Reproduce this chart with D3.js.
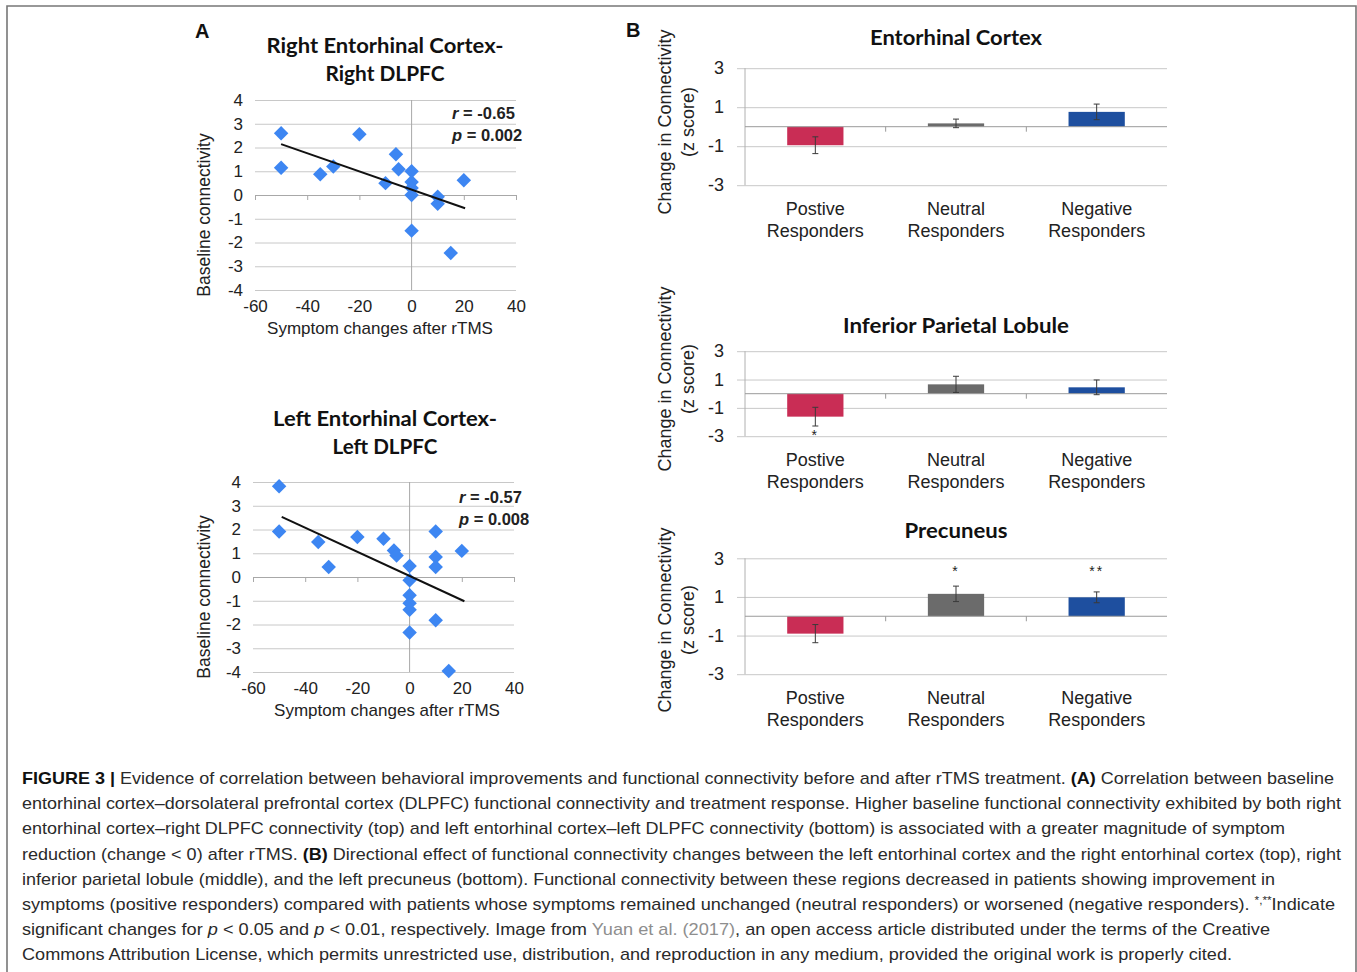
<!DOCTYPE html>
<html>
<head>
<meta charset="utf-8">
<script src="https://cdn.jsdelivr.net/npm/d3@7"></script>
<style>
  body { margin: 0; background: #fff; }
  text { font-family: "Liberation Sans", Arial, sans-serif; fill: #222; }
  .title { font-family: Lato, "Open Sans", sans-serif; font-weight: bold; fill: #111; }
  .panel-letter { font-weight: bold; font-size: 20px; fill: #111; }
  .grid line { stroke: #c8c8c8; }
  .caption { font-size: 17px; fill: #2a2a2a; }
</style>
</head>
<body>
<div class="chart"></div>
<script>
// ---- panel A data ----
const scatterXTicks = [-60, -40, -20, 0, 20, 40];
const scatterYTicks = [4, 3, 2, 1, 0, -1, -2, -3, -4];

const rightX = [-50, -50, -35, -30, -20, -10, -6, -5, 0, 0, 0, 0, 0, 10, 10, 15, 20];
const rightY = [2.6, 1.15, 0.87, 1.2, 2.56, 0.5, 1.72, 1.08, 1.0, 0.55, 0.3, 0.0, -1.5, -0.07, -0.37, -2.44, 0.62];
const rightTrendX = [-50, 20.5];
const rightTrendY = [2.14, -0.56];
const rightStats = ["-0.65", "0.002"];

const leftX = [-50, -50, -35, -31, -20, -10, -6, -5, 0, 0, 0, 0, 0, 0, 10, 10, 10, 10, 15, 20];
const leftY = [3.82, 1.92, 1.47, 0.42, 1.68, 1.61, 1.12, 0.91, 0.46, -0.14, -0.77, -1.1, -1.38, -2.34, 1.92, 0.84, 0.42, -1.82, -3.96, 1.1];
const leftTrendX = [-49, 21];
const leftTrendY = [2.53, -1.02];
const leftStats = ["-0.57", "0.008"];

// ---- panel B data ----
const groups = ["Postive", "Neutral", "Negative"];
const barYTicks = [3, 1, -1, -3];
const barColors = ["#c92d55", "#6b6b6b", "#1e4f9f"];

const ecMean = [-0.95, 0.17, 0.76];
const ecErr = [0.43, 0.22, 0.40];
const ecSig = ["", "", ""];

const iplMean = [-1.62, 0.66, 0.45];
const iplErr = [0.66, 0.57, 0.52];
const iplSig = ["*", "", ""];

const precMean = [-0.9, 1.16, 0.98];
const precErr = [0.47, 0.40, 0.28];
const precSig = ["", "*", "**"];

const svg = d3.select(".chart")
  .append("svg")
    .attr("width", 1357)
    .attr("height", 972);

// outer frame
svg.append("path")
  .attr("d", "M7,972 V6 H1356 V972")
  .attr("fill", "none")
  .attr("stroke", "#777")
  .attr("stroke-width", 1.6);

svg.append("text").attr("class", "panel-letter").attr("x", 195).attr("y", 38).text("A");
svg.append("text").attr("class", "panel-letter").attr("x", 626).attr("y", 37).text("B");

//SCATTER PANELS
function scatter(cfg) {
  const x = d3.scaleLinear().domain([-60, 40]).range(cfg.xr);
  const y = d3.scaleLinear().domain([-4, 4]).range(cfg.yr);
  const w = cfg.xr[1] - cfg.xr[0];
  const g = svg.append("g");

  // titles
  cfg.title.forEach((t, i) => {
    g.append("text")
      .attr("class", "title")
      .attr("x", cfg.titleX)
      .attr("y", cfg.titleY + i * 28)
      .attr("text-anchor", "middle")
      .attr("font-size", 21)
      .attr("textLength", cfg.titleLen[i])
      .attr("lengthAdjust", "spacingAndGlyphs")
      .text(t);
  });

  // y grid + labels
  const yAxis = g.append("g")
    .attr("class", "grid")
    .attr("transform", `translate(${cfg.xr[0]},0)`)
    .call(d3.axisLeft(y).tickValues(scatterYTicks).tickSize(-w).tickPadding(12).tickFormat(d => String(d)));
  yAxis.select(".domain").remove();
  yAxis.selectAll(".tick text")
    .attr("font-size", 17)
    .attr("font-family", "Liberation Sans, Arial, sans-serif")
    .style("fill", "#222");

  // x axis on the zero line
  const xAxis = g.append("g")
    .attr("transform", `translate(0,${y(0)})`)
    .call(d3.axisBottom(x).tickValues(scatterXTicks).tickSize(5).tickFormat(d => String(d)));
  xAxis.select(".domain").attr("stroke", "#a8a8a8");
  xAxis.selectAll(".tick line").attr("stroke", "#a8a8a8");
  xAxis.selectAll(".tick text")
    .attr("y", y(-4) - y(0) + 10)
    .attr("font-size", 17)
    .attr("font-family", "Liberation Sans, Arial, sans-serif")
    .style("fill", "#222");

  // vertical line at x = 0
  g.append("line")
    .attr("x1", x(0)).attr("x2", x(0))
    .attr("y1", y(4)).attr("y2", y(-4))
    .attr("stroke", "#a8a8a8");

  // axis titles
  g.append("text")
    .attr("x", cfg.xLabelX)
    .attr("y", y(-4) + 44)
    .attr("text-anchor", "middle")
    .attr("font-size", 17)
    .text("Symptom changes after rTMS");
  g.append("text")
    .attr("transform", `translate(210,${(y(4) + y(-4)) / 2 + 20}) rotate(-90)`)
    .attr("text-anchor", "middle")
    .attr("font-size", 17.5)
    .text("Baseline connectivity");

  // points
  const pts = cfg.xs.map((v, i) => ({ x: v, y: cfg.ys[i] }));
  g.selectAll("path.pt")
    .data(pts)
    .enter().append("path")
      .attr("class", "pt")
      .attr("d", d3.symbol(d3.symbolSquare, 105))
      .attr("transform", d => `translate(${x(d.x)},${y(d.y)}) rotate(45)`)
      .attr("fill", "#3d86f2");

  // trend line
  const trend = cfg.tx.map((v, i) => [v, cfg.ty[i]]);
  g.append("path")
    .datum(trend)
    .attr("d", d3.line().x(d => x(d[0])).y(d => y(d[1])))
    .attr("stroke", "#111")
    .attr("stroke-width", 2)
    .attr("fill", "none");

  // stats
  const st = g.append("g").attr("font-weight", "bold").attr("font-size", 16.5);
  const r = st.append("text").attr("x", cfg.statX).attr("y", cfg.statY);
  r.append("tspan").attr("font-style", "italic").text("r");
  r.append("tspan").text(" = " + cfg.stats[0]);
  const p = st.append("text").attr("x", cfg.statX).attr("y", cfg.statY + 22);
  p.append("tspan").attr("font-style", "italic").text("p");
  p.append("tspan").text(" = " + cfg.stats[1]);
}

scatter({
  xr: [255, 516], yr: [290, 100],
  xs: rightX, ys: rightY, tx: rightTrendX, ty: rightTrendY, stats: rightStats,
  title: ["Right Entorhinal Cortex-", "Right DLPFC"], titleLen: [237, 119],
  titleX: 385, titleY: 53, xLabelX: 380, statX: 452, statY: 119
});
scatter({
  xr: [253, 514], yr: [672, 482],
  xs: leftX, ys: leftY, tx: leftTrendX, ty: leftTrendY, stats: leftStats,
  title: ["Left Entorhinal Cortex-", "Left DLPFC"], titleLen: [224, 105],
  titleX: 385, titleY: 426, xLabelX: 387, statX: 459, statY: 503
});

//BAR PANELS
function bars(cfg) {
  const x = d3.scaleBand().domain(groups).range([745, 1167]).paddingInner(0.6).paddingOuter(0.3);
  const y = d3.scaleLinear().domain([-3, 3]).range(cfg.yr);
  const g = svg.append("g");
  const step = x.step();

  g.append("text")
    .attr("class", "title")
    .attr("x", 956)
    .attr("y", cfg.titleY)
    .attr("text-anchor", "middle")
    .attr("font-size", 21)
    .attr("textLength", cfg.titleLen)
    .attr("lengthAdjust", "spacingAndGlyphs")
    .text(cfg.title);

  // grid lines + tick labels
  const yAxis = g.append("g")
    .attr("class", "grid")
    .attr("transform", "translate(745,0)")
    .call(d3.axisLeft(y).tickValues(barYTicks).tickSize(-(1167 - 745)).tickPadding(21).tickFormat(d => String(d)));
  yAxis.select(".domain").remove();
  yAxis.selectAll(".tick line").attr("x1", 8).attr("x2", -(1167 - 745)).attr("transform", "scale(-1,1)");
  yAxis.selectAll(".tick text")
    .attr("font-size", 18)
    .attr("font-family", "Liberation Sans, Arial, sans-serif")
    .style("fill", "#222");

  // left axis line
  g.append("line")
    .attr("x1", 745).attr("x2", 745)
    .attr("y1", y(3)).attr("y2", y(-3))
    .attr("stroke", "#b0b0b0");

  // bars
  const rows = groups.map((k, i) => ({ k: k, m: cfg.mean[i], e: cfg.err[i], s: cfg.sig[i], c: barColors[i] }));
  g.selectAll("rect")
    .data(rows)
    .enter().append("rect")
      .attr("x", d => x(d.k))
      .attr("width", x.bandwidth())
      .attr("y", d => y(Math.max(0, d.m)))
      .attr("height", d => Math.abs(y(d.m) - y(0)))
      .attr("fill", d => d.c);

  // zero line with category ticks
  const xAxis = g.append("g")
    .attr("transform", `translate(0,${y(0)})`)
    .call(d3.axisBottom(x).tickSize(0).tickFormat(""));
  xAxis.select(".domain").attr("stroke", "#9a9a9a").attr("d", `M745,0H1167`);
  xAxis.selectAll(".tick").remove();
  g.selectAll("line.sep")
    .data(groups.slice(1))
    .enter().append("line")
      .attr("class", "sep")
      .attr("x1", d => x(d) + x.bandwidth() / 2 - step / 2)
      .attr("x2", d => x(d) + x.bandwidth() / 2 - step / 2)
      .attr("y1", y(0)).attr("y2", y(0) + 5)
      .attr("stroke", "#9a9a9a");

  // error bars
  const eb = g.selectAll("g.eb")
    .data(rows)
    .enter().append("g")
      .attr("class", "eb")
      .attr("stroke", "#3a3a3a")
      .attr("stroke-width", 1);
  const cx = d => x(d.k) + x.bandwidth() / 2;
  eb.append("line").attr("x1", cx).attr("x2", cx).attr("y1", d => y(d.m + d.e)).attr("y2", d => y(d.m - d.e));
  eb.append("line").attr("x1", d => cx(d) - 3).attr("x2", d => cx(d) + 3).attr("y1", d => y(d.m + d.e)).attr("y2", d => y(d.m + d.e));
  eb.append("line").attr("x1", d => cx(d) - 3).attr("x2", d => cx(d) + 3).attr("y1", d => y(d.m - d.e)).attr("y2", d => y(d.m - d.e));

  // significance marks
  g.selectAll("text.sig")
    .data(rows.filter(d => d.s))
    .enter().append("text")
      .attr("class", "sig")
      .attr("x", cx)
      .attr("y", d => d.m < 0 ? y(d.m - d.e) + 14 : y(cfg.sigAt))
      .attr("text-anchor", "middle")
      .attr("font-size", 14)
      .attr("letter-spacing", 2)
      .text(d => d.s);

  // category labels
  const lab = g.selectAll("text.cat")
    .data(groups)
    .enter().append("text")
      .attr("class", "cat")
      .attr("text-anchor", "middle")
      .attr("font-size", 18);
  lab.append("tspan").attr("x", d => x(d) + x.bandwidth() / 2).attr("y", y(-3) + 30).text(d => d);
  lab.append("tspan").attr("x", d => x(d) + x.bandwidth() / 2).attr("y", y(-3) + 52).text("Responders");

  // y label
  const yl = g.append("text")
    .attr("transform", `translate(0,${cfg.labelY}) rotate(-90)`)
    .attr("text-anchor", "middle")
    .attr("font-size", 18);
  yl.append("tspan").attr("x", 0).attr("y", 671).text("Change in Connectivity");
  yl.append("tspan").attr("x", 0).attr("y", 694).text("(z score)");
}

bars({ yr: [185.2, 68.2], mean: ecMean, err: ecErr, sig: ecSig, sigAt: 2.4,
  title: "Entorhinal Cortex", titleLen: 172, titleY: 45, labelY: 122 });
bars({ yr: [436.2, 351.2], mean: iplMean, err: iplErr, sig: iplSig, sigAt: 2.4,
  title: "Inferior Parietal Lobule", titleLen: 226, titleY: 333, labelY: 379 });
bars({ yr: [674.2, 558.3], mean: precMean, err: precErr, sig: precSig, sigAt: 2.1,
  title: "Precuneus", titleLen: 103, titleY: 538, labelY: 620 });

//CAPTION
const captionLines = [
  [["FIGURE 3 | ", "b"], ["Evidence of correlation between behavioral improvements and functional connectivity before and after rTMS treatment. "], ["(A)", "b"], [" Correlation between baseline"]],
  [["entorhinal cortex\u2013dorsolateral prefrontal cortex (DLPFC) functional connectivity and treatment response. Higher baseline functional connectivity exhibited by both right"]],
  [["entorhinal cortex\u2013right DLPFC connectivity (top) and left entorhinal cortex\u2013left DLPFC connectivity (bottom) is associated with a greater magnitude of symptom"]],
  [["reduction (change < 0) after rTMS. "], ["(B)", "b"], [" Directional effect of functional connectivity changes between the left entorhinal cortex and the right entorhinal cortex (top), right"]],
  [["inferior parietal lobule (middle), and the left precuneus (bottom). Functional connectivity between these regions decreased in patients showing improvement in"]],
  [["symptoms (positive responders) compared with patients whose symptoms remained unchanged (neutral responders) or worsened (negative responders). "], ["*,**", "sup"], ["Indicate"]],
  [["significant changes for "], ["p", "i"], [" < 0.05 and "], ["p", "i"], [" < 0.01, respectively. Image from "], ["Yuan et al. (2017)", "link"], [", an open access article distributed under the terms of the Creative"]],
  [["Commons Attribution License, which permits unrestricted use, distribution, and reproduction in any medium, provided the original work is properly cited."]]
];
const captionEnds = [1334, 1341, 1285, 1341, 1275, 1335, 1270, 1232];

captionLines.forEach((segs, i) => {
  const t = svg.append("text")
    .attr("class", "caption")
    .attr("x", 22)
    .attr("y", 784 + i * 25.2)
    .attr("textLength", captionEnds[i] - 22)
    .attr("lengthAdjust", "spacingAndGlyphs");
  segs.forEach(s => {
    const sp = t.append("tspan").text(s[0]);
    if (s[1] === "b") sp.attr("font-weight", "bold").style("fill", "#111");
    if (s[1] === "i") sp.attr("font-style", "italic");
    if (s[1] === "link") sp.style("fill", "#8e8e8e");
    if (s[1] === "sup") sp.attr("font-size", 11).attr("baseline-shift", "super");
  });
});
</script>
</body>
</html>
